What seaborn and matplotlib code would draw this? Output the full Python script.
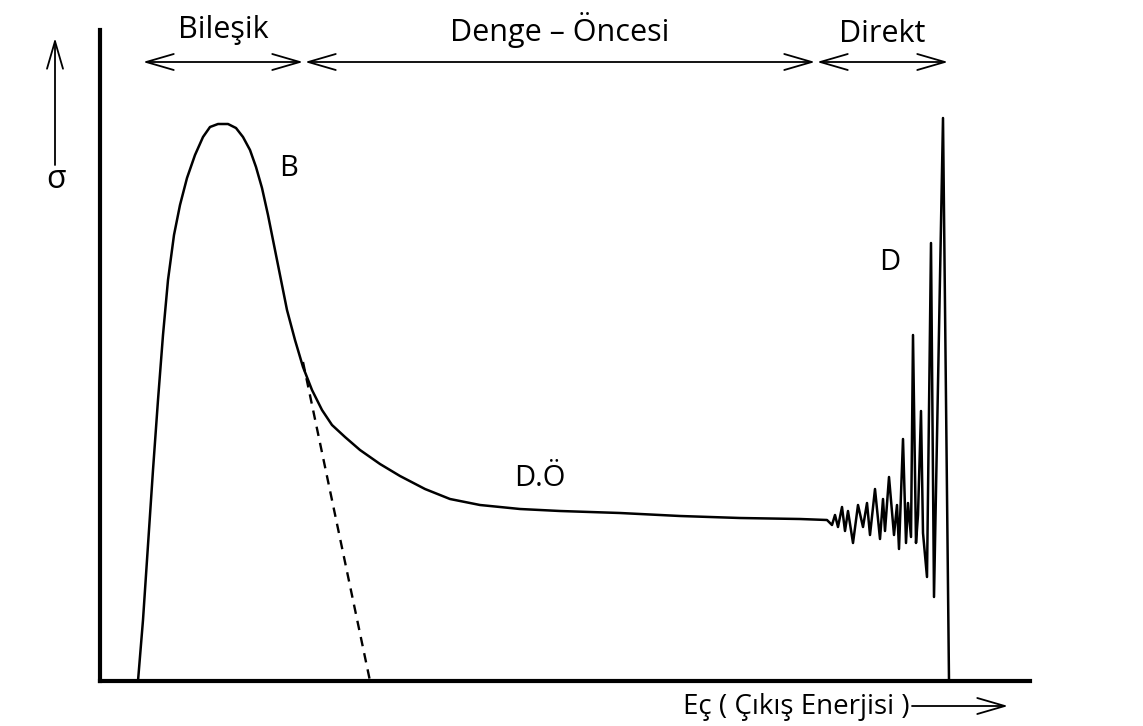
import numpy as np
import pandas as pd
import matplotlib.pyplot as plt
import seaborn as sns

# main curve: x position and height above baseline (schematic units)
curve_x = [138, 143, 148, 153, 158, 163, 168, 174, 180, 187, 195, 203, 210, 218, 228,
           236, 243, 250, 256, 262, 268, 274, 280, 287, 295, 303, 312, 322, 332, 345,
           360, 380, 400, 425, 450, 480, 520, 560, 620, 680, 740, 800, 827,
           832, 835, 838, 842, 845, 848, 853, 858, 863, 867, 870, 875, 880, 883, 885,
           889, 894, 897, 899, 903, 906, 908, 911, 913, 916, 918, 921, 923, 927, 931,
           934, 943, 949]
curve_y = [0, 61, 136, 211, 281, 346, 401, 446, 476, 503, 526, 544, 554, 557, 557,
           553, 544, 531, 514, 493, 466, 436, 406, 371, 341, 314, 291, 271, 256, 244,
           231, 217, 205, 192, 182, 176, 172, 170, 168, 165, 163, 162, 161,
           156, 166, 154, 174, 150, 170, 138, 176, 154, 178, 146, 192, 142, 182, 150,
           204, 146, 176, 132, 242, 138, 178, 144, 346, 138, 166, 270, 148, 104, 438,
           84, 563, 0]

# dashed extrapolation of the compound peak
dash_x = [303, 370]
dash_y = [319, 0]

# region labels and their arrow spans
regions = ["Bileşik", "Denge – Öncesi", "Direkt"]
region_start = [143, 305, 817]
region_end = [303, 815, 948]

curve_labels = ["B", "D.Ö", "D"]
curve_label_x = [289, 540, 890]
curve_label_y = [513, 203, 418]

sns.set_theme(style="white")
plt.rcParams['font.family'] = ['Open Sans', 'DejaVu Sans']
plt.rcParams['text.color'] = 'black'

fig = plt.figure(figsize=(11.43, 7.26), dpi=100)
ax = fig.add_axes([100 / 1143, 45 / 726, 930 / 1143, 651 / 726])

df = pd.DataFrame({"x": curve_x, "y": curve_y})
sns.lineplot(data=df, x="x", y="y", sort=False, estimator=None,
             color="black", linewidth=1.8, ax=ax)
ax.plot(dash_x, dash_y, color="black", linestyle=(0, (4, 3)), linewidth=1.7)

ax.set_xlim(100, 1030)
ax.set_ylim(0, 651)
ax.set_xticks([])
ax.set_yticks([])
ax.set_xlabel("")
ax.set_ylabel("")
for s in ["top", "right"]:
    ax.spines[s].set_visible(False)
for s in ["left", "bottom"]:
    ax.spines[s].set_linewidth(3)
    ax.spines[s].set_color("black")

arrow_both = dict(arrowstyle="<->,head_length=1.1,head_width=0.32",
                  color="black", lw=1.3, mutation_scale=18,
                  shrinkA=0, shrinkB=0)
arrow_one = dict(arrowstyle="->,head_length=1.1,head_width=0.32",
                 color="black", lw=1.3, mutation_scale=18,
                 shrinkA=0, shrinkB=0)

for name, a, b in zip(regions, region_start, region_end):
    ax.annotate("", xy=(b, 619), xytext=(a, 619), arrowprops=arrow_both,
                annotation_clip=False)
    ty = 647 if name == "Direkt" else 651
    ax.text((a + b) / 2, ty, name, ha="center", va="center", fontsize=22,
            color="black", clip_on=False)

for lab, lx, ly in zip(curve_labels, curve_label_x, curve_label_y):
    ax.text(lx, ly, lab, ha="center", va="center", fontsize=21, color="black")

# sigma with upward arrow
ax.annotate("", xy=(55, 643), xytext=(55, 516), arrowprops=arrow_one,
            annotation_clip=False)
ax.text(56, 501, "σ", ha="center", va="center", fontsize=23, color="black",
        clip_on=False)

# x label with arrow
ax.text(910, -26, "Eç ( Çıkış Enerjisi )", ha="right", va="center",
        fontsize=20, color="black", clip_on=False)
ax.annotate("", xy=(1008, -25), xytext=(912, -25), arrowprops=arrow_one,
            annotation_clip=False)

fig.savefig("out.png", dpi=100, facecolor="white")
